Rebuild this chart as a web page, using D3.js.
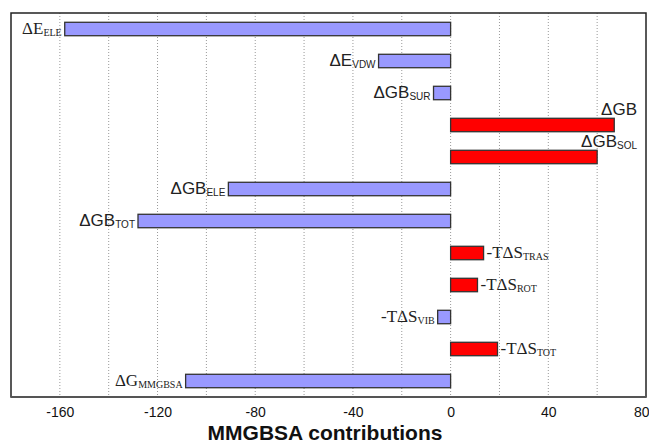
<!DOCTYPE html>
<html>
<head>
<meta charset="utf-8">
<script src="https://cdn.jsdelivr.net/npm/d3@7.9.0/dist/d3.min.js"></script>
<style>
  body { margin: 0; background: #fff; }
  svg { display: block; }
</style>
</head>
<body>
<div id="chart"></div>
<script>
// --- data ---
const terms = ["ELE", "VDW", "SUR", "GB", "SOL", "GBELE", "GBTOT", "TRAS", "ROT", "VIB", "STOT", "MMGBSA"];
const labelMain = ["ΔE", "ΔE", "ΔGB", "ΔGB", "ΔGB", "ΔGB", "ΔGB", "-TΔS", "-TΔS", "-TΔS", "-TΔS", "ΔG"];
const labelSub = ["ELE", "VDW", "SUR", "", "SOL", "ELE", "TOT", "TRAS", "ROT", "VIB", "TOT", "MMGBSA"];
const values = [-158, -29.5, -7, 67, 60, -91, -128, 13.5, 11, -5.3, 19.2, -108.5];
const xTicks = [-160, -120, -80, -40, 0, 40, 80];
const xDomain = [-180, 80];

const serifTerms = new Set(["ELE", "TRAS", "ROT", "VIB", "STOT", "MMGBSA"]);

const width = 649;
const height = 446;
const plot = { left: 11, right: 646, top: 13, bottom: 397 };

const svg = d3.select("#chart")
  .append("svg")
  .attr("width", width)
  .attr("height", height);

const x = d3.scaleLinear().domain(xDomain).range([plot.left, plot.right]);
const y = d3.scaleBand()
  .domain(terms)
  .range([plot.top, plot.bottom])
  .paddingInner(0.58)
  .paddingOuter(0.29);

// gridlines every 20
const grid = d3.range(xDomain[0] + 20, xDomain[1], 20);
svg.append("g")
  .selectAll("line")
  .data(grid)
  .join("line")
  .attr("x1", (d) => x(d))
  .attr("x2", (d) => x(d))
  .attr("y1", plot.top)
  .attr("y2", plot.bottom)
  .attr("stroke", "#999")
  .attr("stroke-width", 1)
  .attr("stroke-dasharray", "1,2");

// bars
const rows = terms.map((t, i) => ({ term: t, value: values[i], main: labelMain[i], sub: labelSub[i] }));

svg.append("g")
  .selectAll("rect")
  .data(rows)
  .join("rect")
  .attr("x", (d) => x(Math.min(0, d.value)))
  .attr("y", (d) => y(d.term))
  .attr("width", (d) => Math.abs(x(d.value) - x(0)))
  .attr("height", y.bandwidth())
  .attr("fill", (d) => (d.value < 0 ? "#9999ff" : "#ff0000"))
  .attr("stroke", "#333")
  .attr("stroke-width", 1.3);

// labels
svg.append("g")
  .selectAll("text")
  .data(rows)
  .join("text")
  .attr("font-family", (d) => (serifTerms.has(d.term) ? "'Liberation Serif', serif" : "'Liberation Sans', Arial, sans-serif"))
  .attr("font-size", 17)
  .attr("fill", "#222")
  .each(function (d) {
    const t = d3.select(this);
    const cy = y(d.term) + y.bandwidth() / 2;
    if (d.value < 0) {
      t.attr("text-anchor", "end").attr("x", x(d.value) - 3).attr("y", cy + 5);
    } else if (d.value > 40) {
      t.attr("text-anchor", "end").attr("x", plot.right - 9).attr("y", y(d.term) - 3);
    } else {
      t.attr("text-anchor", "start").attr("x", x(d.value) + 3).attr("y", cy + 5);
    }
    t.append("tspan").text(d.main);
    if (d.sub) {
      t.append("tspan")
        .attr("font-size", 10)
        .attr("dy", 2)
        .text(d.sub);
    }
  });

// frame
svg.append("rect")
  .attr("x", plot.left)
  .attr("y", plot.top)
  .attr("width", plot.right - plot.left)
  .attr("height", plot.bottom - plot.top)
  .attr("fill", "none")
  .attr("stroke", "#222")
  .attr("stroke-width", 1.5);

svg.append("line")
  .attr("x1", plot.left)
  .attr("x2", plot.right)
  .attr("y1", plot.bottom)
  .attr("y2", plot.bottom)
  .attr("stroke", "#555")
  .attr("stroke-width", 2);

// x axis
const xAxis = d3.axisBottom(x)
  .tickValues(xTicks)
  .tickFormat((d) => String(d))
  .tickSize(0)
  .tickPadding(10);
svg.append("g")
  .attr("transform", `translate(0, ${plot.bottom})`)
  .call(xAxis)
  .call((g) => g.select(".domain").remove())
  .call((g) => g.selectAll("text")
    .attr("font-family", "'Liberation Sans', Arial, sans-serif")
    .attr("font-size", 14)
    .attr("fill", "#111"))
  .call((g) => g.selectAll(".tick")
    .filter((d) => d === xDomain[1])
    .select("text")
    .attr("text-anchor", "end")
    .attr("dx", 3));

svg.append("text")
  .attr("x", 325)
  .attr("y", 440)
  .attr("text-anchor", "middle")
  .attr("font-family", "'Liberation Sans', Arial, sans-serif")
  .attr("font-weight", "bold")
  .attr("font-size", 21)
  .attr("fill", "#111")
  .text("MMGBSA contributions");
</script>
</body>
</html>
